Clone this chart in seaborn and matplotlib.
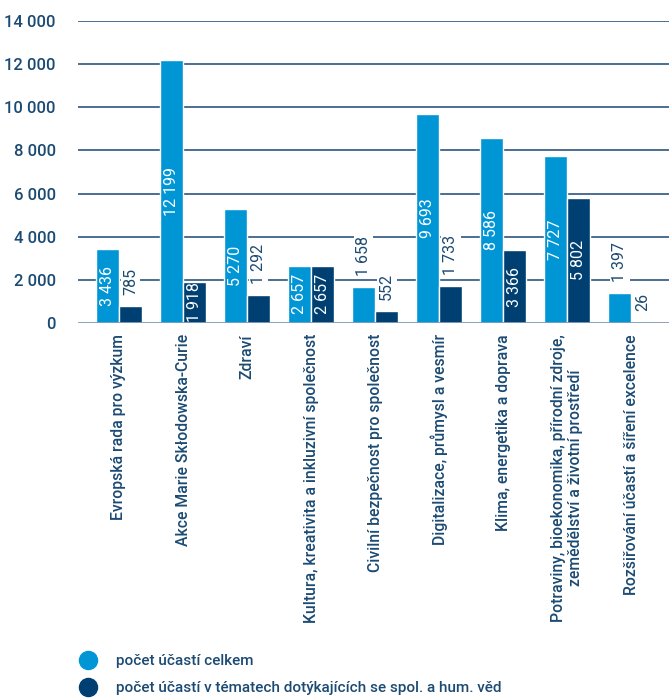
import matplotlib
matplotlib.use("Agg")
import matplotlib.pyplot as plt
from matplotlib.lines import Line2D
import seaborn as sns
import pandas as pd

categories = [
    "Evropská rada pro výzkum",
    "Akce Marie Skłodowska-Curie",
    "Zdraví",
    "Kultura, kreativita a inkluzivní společnost",
    "Civilní bezpečnost pro společnost",
    "Digitalizace, průmysl a vesmír",
    "Klima, energetika a doprava",
    "Potraviny, bioekonomika, přírodní zdroje,\nzemědělství a životní prostředí",
    "Rozšiřování účastí a šíření excelence",
]
total = [3436, 12199, 5270, 2657, 1658, 9693, 8586, 7727, 1397]
ssh = [785, 1918, 1292, 2657, 552, 1733, 3366, 5802, 26]
series_names = [
    "počet účastí celkem",
    "počet účastí v tématech dotýkajících se spol. a hum. věd",
]
yticks = [0, 2000, 4000, 6000, 8000, 10000, 12000, 14000]

LIGHT = "#0096d6"
DARK = "#003f72"
TEXT = "#1b4a73"
GRID = "#3d6389"

sns.set_theme(style="white")
plt.rcParams["font.family"] = ["Roboto", "DejaVu Sans"]
plt.rcParams["font.weight"] = "medium"

df = pd.DataFrame({
    "kategorie": categories * 2,
    "hodnota": total + ssh,
    "serie": [series_names[0]] * len(categories) + [series_names[1]] * len(categories),
})

fig = plt.figure(figsize=(6.69, 7.0), dpi=100)
ax = fig.add_axes([78 / 669, 1 - 323 / 700, (669 - 78) / 669, 302 / 700])

sns.barplot(data=df, x="kategorie", y="hodnota", hue="serie",
            palette=[LIGHT, DARK], width=0.72, gap=0, saturation=1,
            legend=False, ax=ax)
for p in ax.patches:
    p.set_zorder(3)

ax.set_ylim(0, 14000)
ax.set_xlim(-0.64, len(categories) - 1 + 0.59)
ax.set_yticks(yticks)
ax.set_yticklabels([f"{v:,}".replace(",", " ") for v in yticks],
                   color=TEXT, fontsize=12)
ax.tick_params(axis="y", length=0, pad=16)
ax.tick_params(axis="x", length=0, pad=8)
ax.set_xticks(range(len(categories)))
ax.set_xticklabels(categories, rotation=90, ha="center", va="top",
                   color=TEXT, fontsize=11.3, linespacing=1.15)
ax.set_xlabel("")
ax.set_ylabel("")

for v in yticks[1:]:
    ax.axhline(v, color=GRID, lw=1.3, zorder=1)
ax.axhline(0, color="#7f9bb8", lw=2.0, zorder=4)
sns.despine(ax=ax, left=True, bottom=True, top=True, right=True)

# value labels: white inside tall bars, navy above short ones
px_per_unit = 302 / 14000
for container, vals in zip(ax.containers, [total, ssh]):
    for bar, v in zip(container, vals):
        txt = f"{v:,}".replace(",", " ")
        x = bar.get_x() + bar.get_width() / 2
        if v * px_per_unit > 40:
            ax.text(x, v / 2, txt, rotation=90, ha="center", va="center",
                    color="white", fontsize=11.5, fontweight="normal", zorder=5)
        else:
            ax.annotate(txt, (x, v), xytext=(0, 8), textcoords="offset points",
                        rotation=90, ha="center", va="bottom", fontweight="normal",
                        color=TEXT, fontsize=11.5, zorder=5,
                        bbox=dict(boxstyle="square,pad=0.15", fc="white", ec="none"))

handles = [Line2D([], [], marker="o", ls="", ms=13, color=c) for c in (LIGHT, DARK)]
fig.legend(handles, series_names, loc="upper left", bbox_to_anchor=(70 / 669, 1 - 648 / 700),
           frameon=False, fontsize=11, labelcolor=TEXT, handletextpad=1.1,
           labelspacing=0.85, borderaxespad=0, handlelength=1.5)

fig.savefig("out.png", dpi=100)
